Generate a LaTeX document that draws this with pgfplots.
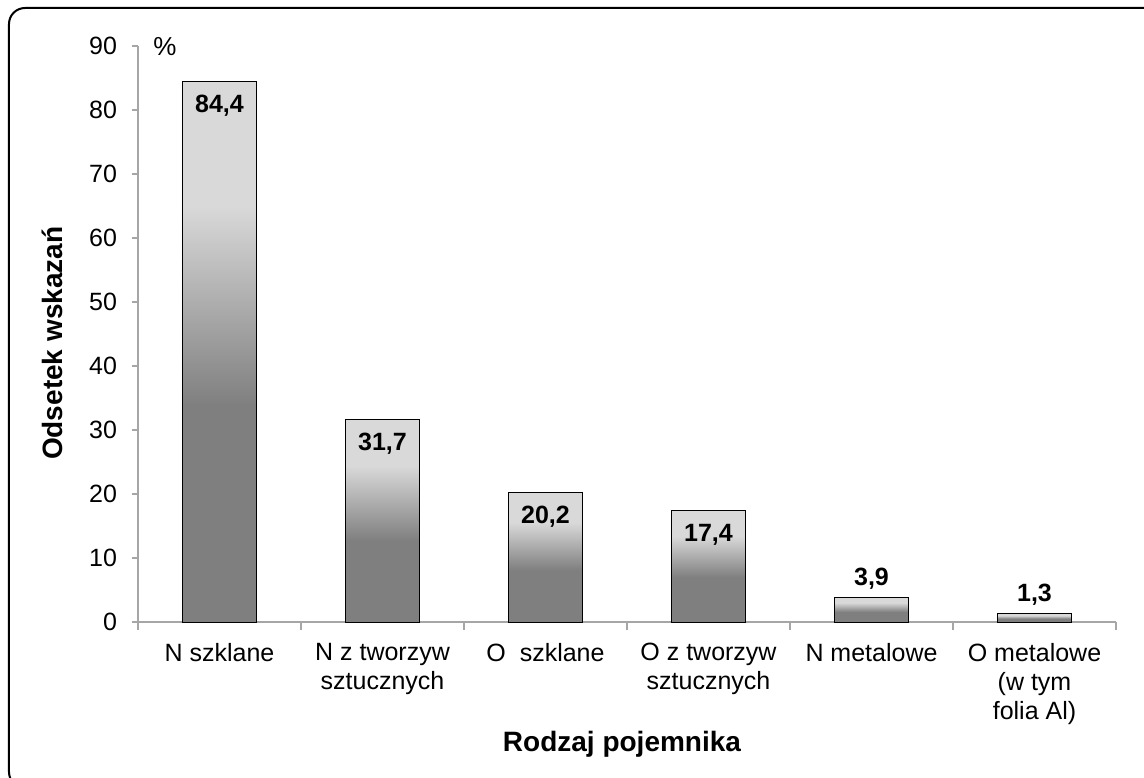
\documentclass[border=0pt]{standalone}
\usepackage{fontspec}
\setmainfont{Liberation Sans}
\usepackage{pgfplots}
\pgfplotsset{compat=1.18}

\definecolor{bardark}{RGB}{127,127,127}
\definecolor{barlight}{RGB}{217,217,217}
\definecolor{axisgray}{RGB}{166,166,166}
% dark lower part, gradient in the middle, light top (each bar spans 25bp..75bp)
\pgfdeclareverticalshading{barshade}{100bp}{color(0bp)=(bardark); color(45bp)=(bardark); color(63.5bp)=(barlight); color(100bp)=(barlight)}

\pgfplotsset{
  pbar/.style={ybar, bar shift=0pt, shading=barshade, draw=black, line width=0.5pt,
    nodes near coords={\pgfmathprintnumber[use comma,fixed,fixed zerofill,precision=1]{\pgfplotspointmeta}},
    nodes near coords style={anchor=base, yshift=#1, font=\bfseries\fontsize{12.5}{14}\selectfont, text=black}},
}

\begin{document}
\begin{tikzpicture}
\path[use as bounding box] (-69pt,-77.5pt) rectangle (503pt,311pt);
\draw[line width=1pt, rounded corners=8pt] (-64.5pt,-83pt) rectangle (515pt,307pt);
\begin{axis}[
  at={(0,0)}, anchor=south west,
  scale only axis, width=489pt, height=288pt,
  xmin=-0.5, xmax=5.5, ymin=0, ymax=90,
  axis x line*=bottom, axis y line*=left,
  axis line style={draw=axisgray, line width=0.75pt},
  tick align=outside,
  tick style={draw=axisgray, line width=0.75pt},
  major tick length=3pt, minor tick length=4pt,
  xtick={0,...,5}, major x tick style={draw=none},
  minor xtick={-0.5,0.5,...,5.5},
  xticklabels={N szklane, N z tworzyw\\sztucznych, O~~szklane, O z tworzyw\\sztucznych, N metalowe, O metalowe\\(w tym\\folia Al)},
  xticklabel style={align=center, anchor=north, yshift=-4pt, font=\fontsize{12.5}{14.5}\selectfont},
  ytick={0,10,...,90},
  yticklabel style={xshift=-4pt, font=\fontsize{12.5}{14}\selectfont},
  /pgf/number format/assume math mode=true,
  xlabel={Rodzaj pojemnika},
  xlabel style={at={(axis description cs:0.5,0)}, anchor=base, yshift=-64.5pt, xshift=-2.5pt, font=\bfseries\fontsize{14}{16}\selectfont},
  ylabel={Odsetek wskazań},
  ylabel style={at={(axis description cs:-0.0879,0.484)}, anchor=center, font=\bfseries\fontsize{14}{16}\selectfont},
  bar width=37pt,
  clip=false,
]
\addplot[pbar=-15.5pt] coordinates {(0,84.4)};
\addplot[pbar=-15.5pt] coordinates {(1,31.7)};
\addplot[pbar=-15.5pt] coordinates {(2,20.2)};
\addplot[pbar=-15.5pt] coordinates {(3,17.4)};
\addplot[pbar=6pt] coordinates {(4,3.9)};
\addplot[pbar=6pt] coordinates {(5,1.3)};
\end{axis}
\node[anchor=base west, font=\fontsize{13}{15}\selectfont, inner sep=0pt] at (7.5pt,283pt) {\%};
\end{tikzpicture}
\end{document}
